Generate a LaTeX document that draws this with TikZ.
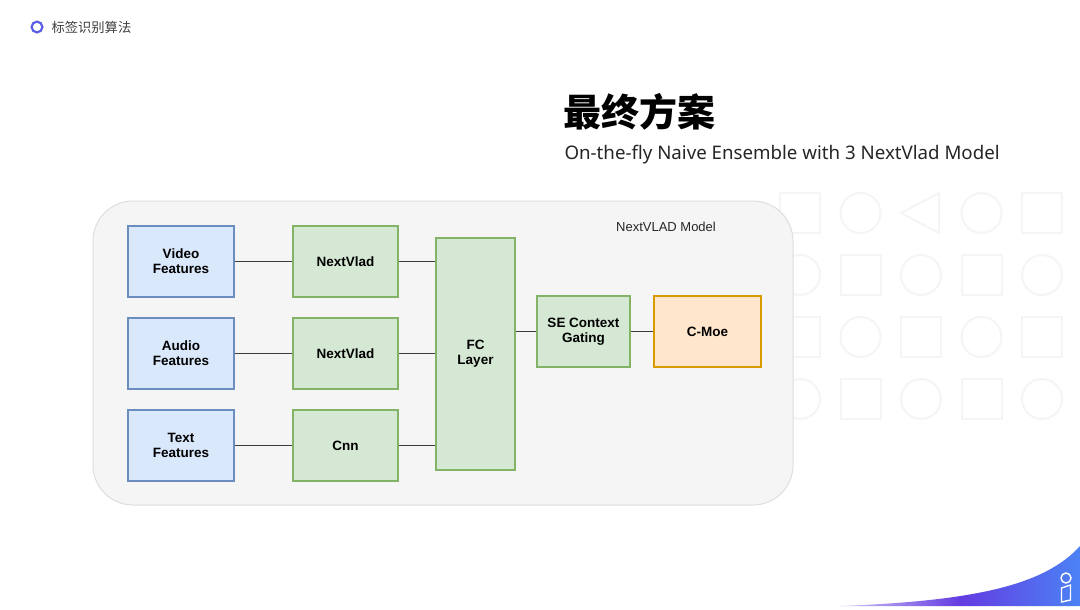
\documentclass[tikz,border=0pt]{standalone}
\usepackage{fontspec}
\setmainfont{Liberation Sans}
\newfontfamily\cjk{Noto Sans CJK SC}
\newfontfamily\subfont{Noto Sans}
\usetikzlibrary{positioning,calc}
\definecolor{featfill}{RGB}{218,232,252}
\definecolor{featline}{RGB}{108,142,191}
\definecolor{netfill}{RGB}{213,232,212}
\definecolor{netline}{RGB}{130,179,102}
\definecolor{moefill}{RGB}{255,230,204}
\definecolor{moeline}{RGB}{215,155,0}
\definecolor{panel}{RGB}{245,245,245}
\definecolor{panelline}{RGB}{222,222,222}
\definecolor{ghost}{RGB}{245,245,245}
\definecolor{wire}{RGB}{60,60,60}
\definecolor{brandblue}{RGB}{75,130,245}
\definecolor{brandviolet}{RGB}{100,60,225}
\definecolor{ringcol}{RGB}{90,95,230}
\tikzset{
  box/.style={draw, line width=1.6pt, font=\bfseries\fontsize{13.5}{15}\selectfont,
    align=center, inner sep=0pt, minimum height=71pt},
  featbox/.style={box, fill=featfill, draw=featline, minimum width=106pt},
  netbox/.style={box, fill=netfill, draw=netline, minimum width=105pt},
  link/.style={draw=wire, line width=1pt},
}
\begin{document}
\begin{tikzpicture}[x=1pt,y=-1pt]
    \useasboundingbox (0,0) rectangle (1080,610);
    \fill[white] (0,0) rectangle (1080,610);
    % faint shapes behind the panel
    \foreach \c/\r/\k in {0/0/s,1/0/c,2/0/t,3/0/c,4/0/s,
                          0/1/c,1/1/s,2/1/c,3/1/s,4/1/c,
                          0/2/s,1/2/c,2/2/s,3/2/c,4/2/s,
                          0/3/c,1/3/s,2/3/c,3/3/s,4/3/c}{
      \pgfmathsetmacro\px{800+60.5*\c}
      \pgfmathsetmacro\py{213+62*\r}
      \if\k s\draw[ghost,line width=2pt] (\px-20,\py-20) rectangle (\px+20,\py+20);\fi
      \if\k c\draw[ghost,line width=2pt] (\px,\py) circle (20);\fi
      \if\k t\draw[ghost,line width=2pt] (\px+18,\py-20) -- (\px-20,\py) -- (\px+18,\py+20) -- cycle;\fi
    }
    % header
    \draw[ringcol,line width=2.2pt] (37,27) circle (5.4);
    \node[anchor=west,text=black!75,font=\cjk\fontsize{13.3}{15}\selectfont] (head) at (48,27) {标签识别算法};
    \node[anchor=west,font=\cjk\bfseries\fontsize{38}{42}\selectfont] (title) at (560,112) {最终方案};
    \node[anchor=west,text=black!85,font=\subfont\fontsize{18.7}{21}\selectfont] (sub) at (561,155) {On-the-fly Naive Ensemble with 3 NextVlad Model};
    % model panel
    \draw[panelline,fill=panel,line width=1pt,rounded corners=40pt] (93,201) rectangle (793,505);
    \node[font=\fontsize{13}{15}\selectfont,text=black!85] (cap) at (666,227) {NextVLAD Model};
    % inputs
    \node[featbox] (vid) at (181,261.5) {Video\\Features};
    \node[featbox] (aud) at (181,353.5) {Audio\\Features};
    \node[featbox] (txt) at (181,445.5) {Text\\Features};
    % encoders
    \node[netbox] (nv1) at (345.5,261.5) {NextVlad};
    \node[netbox] (nv2) at (345.5,353.5) {NextVlad};
    \node[netbox] (cnn) at (345.5,445.5) {Cnn};
    \node[box,fill=netfill,draw=netline,minimum width=79pt,minimum height=232pt] (fc) at (475.5,354) {FC\\Layer};
    \node[box,fill=netfill,draw=netline,minimum width=93pt] (se) at (583.5,331.5) {SE Context\\Gating};
    \node[box,fill=moefill,draw=moeline,line width=2.6pt,minimum width=107pt] (moe) at (707.5,331.5) {C-Moe};
    % wires
    \path[link] (vid) -- (nv1);
    \path[link] (aud) -- (nv2);
    \path[link] (txt) -- (cnn);
    \path[link] (nv1.east) -- (nv1.east -| fc.west);
    \path[link] (nv2.east) -- (nv2.east -| fc.west);
    \path[link] (cnn.east) -- (cnn.east -| fc.west);
    \path[link] (fc.east |- se.west) -- (se.west);
    \path[link] (se) -- (moe);
    % corner swoosh
    \shade[left color=brandviolet!30,right color=brandblue,middle color=brandviolet]
      (840,606) .. controls (975,601) and (1045,585) .. (1080,546) -- (1080,606) -- cycle;
    \draw[white,line width=1.4pt] (1066,578) circle (5);
    \draw[white,line width=1.4pt] (1061.5,588) -- (1070.5,585) -- (1070.5,600) -- (1061.5,602) -- cycle;
\end{tikzpicture}
\end{document}
